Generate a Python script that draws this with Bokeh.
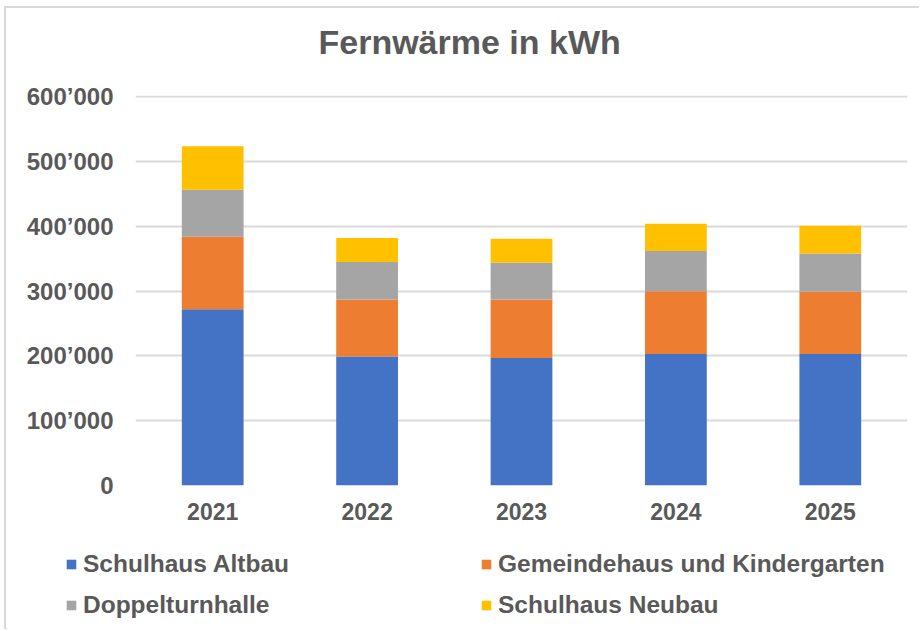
from bokeh.plotting import figure
from bokeh.layouts import column
from bokeh.models import ColumnDataSource, FixedTicker, Legend, LegendItem, FactorRange, Range1d
from bokeh.embed import file_html
from bokeh.resources import INLINE

years = ["2021", "2022", "2023", "2024", "2025"]
series = ["Schulhaus Altbau", "Gemeindehaus und Kindergarten", "Doppelturnhalle", "Schulhaus Neubau"]
altbau = [272000, 199000, 197000, 203000, 203000]
gemeinde = [112000, 88000, 90000, 97000, 96000]
turnhalle = [72500, 58000, 57000, 62000, 59000]
neubau = [67000, 37000, 37000, 42000, 43000]
y_ticks = [0, 100000, 200000, 300000, 400000, 500000, 600000]
y_tick_labels = ["0", "100\u2019000", "200\u2019000", "300\u2019000", "400\u2019000", "500\u2019000", "600\u2019000"]
colors = ["#4472C4", "#ED7D31", "#A5A5A5", "#FFC000"]

FONT = "Liberation Sans"
TXT = "#595959"

src = ColumnDataSource(dict(year=years, s0=altbau, s1=gemeinde, s2=turnhalle, s3=neubau))

# title strip
t = figure(width=913, height=72, x_range=Range1d(0, 1), y_range=Range1d(0, 1),
           output_backend="svg", toolbar_location=None, x_axis_type=None, y_axis_type=None,
           min_border_left=0, min_border_right=0, min_border_top=0, min_border_bottom=0)
t.outline_line_color = None
t.xgrid.visible = False
t.ygrid.visible = False
t.title.text = "Fernwärme in kWh"
t.title.align = "left"
t.title.offset = 312
t.title.vertical_align = "top"
t.title.text_font = FONT
t.title.text_font_style = "bold"
t.title.text_font_size = "34px"
t.title.text_color = TXT
t.title.standoff = 29

p = figure(width=913, height=460, x_range=FactorRange(*years, range_padding=0),
           y_range=Range1d(0, 602000), output_backend="svg", toolbar_location=None,
           min_border_left=129, min_border_right=12, min_border_top=15, min_border_bottom=55)

renderers = p.vbar_stack(["s0", "s1", "s2", "s3"], x="year", width=0.4, color=colors,
                         line_color=None, source=src)

p.outline_line_color = None
p.background_fill_color = "white"
p.border_fill_color = "white"

p.yaxis.ticker = FixedTicker(ticks=y_ticks)
p.yaxis.major_label_overrides = {t_: l for t_, l in zip(y_ticks, y_tick_labels)}
for ax in (p.xaxis, p.yaxis):
    ax.axis_line_color = None
    ax.major_tick_line_color = None
    ax.minor_tick_line_color = None
    ax.major_tick_out = 0
    ax.major_tick_in = 0
    ax.major_label_text_font = FONT
    ax.major_label_text_font_style = "bold"
    ax.major_label_text_color = TXT
p.xaxis.major_label_text_font_size = "23px"
p.yaxis.major_label_text_font_size = "24px"
p.yaxis.major_label_standoff = 22
p.xaxis.major_label_standoff = 17

p.xgrid.grid_line_color = None
p.ygrid.grid_line_color = "#D9D9D9"
p.ygrid.grid_line_width = 2
p.ygrid.ticker = FixedTicker(ticks=y_ticks)

# legend panel
q = figure(width=913, height=89, x_range=Range1d(0, 913), y_range=Range1d(0, 89),
           output_backend="svg", toolbar_location=None, x_axis_type=None, y_axis_type=None,
           min_border_left=0, min_border_right=0, min_border_top=0, min_border_bottom=0)
q.outline_line_color = None
q.xgrid.visible = False
q.ygrid.visible = False
for fig in (t, p, q):
    if "frame_align" in fig.properties():
        fig.frame_align = False

# proxy renderers (placed outside the visible range) that only carry the legend swatches
leg_r = [q.vbar(x=[-1000], top=[1], width=1, fill_color=c, line_color=None) for c in colors]

def make_legend(idx, loc):
    lg = Legend(items=[LegendItem(label=series[i], renderers=[leg_r[i]]) for i in idx],
                location=loc, orientation="vertical")
    lg.label_text_font = FONT
    lg.label_text_font_style = "bold"
    lg.label_text_font_size = "24.5px"
    lg.label_text_color = TXT
    lg.glyph_width = 12
    lg.glyph_height = 12
    lg.label_standoff = 6
    lg.spacing = 13
    lg.padding = 0
    lg.margin = 0
    lg.border_line_color = None
    lg.background_fill_alpha = 0
    return lg

q.add_layout(make_legend([0, 2], (59, 10)), "center")
q.add_layout(make_legend([1, 3], (474, 10)), "center")

layout = column(t, p, q, spacing=0)
layout.styles = {"border-left": "2px solid #D9D9D9", "border-top": "2px solid #D9D9D9",
                 "margin-left": "4px", "margin-top": "6px"}

open("out.html", "w").write(file_html(layout, INLINE))
